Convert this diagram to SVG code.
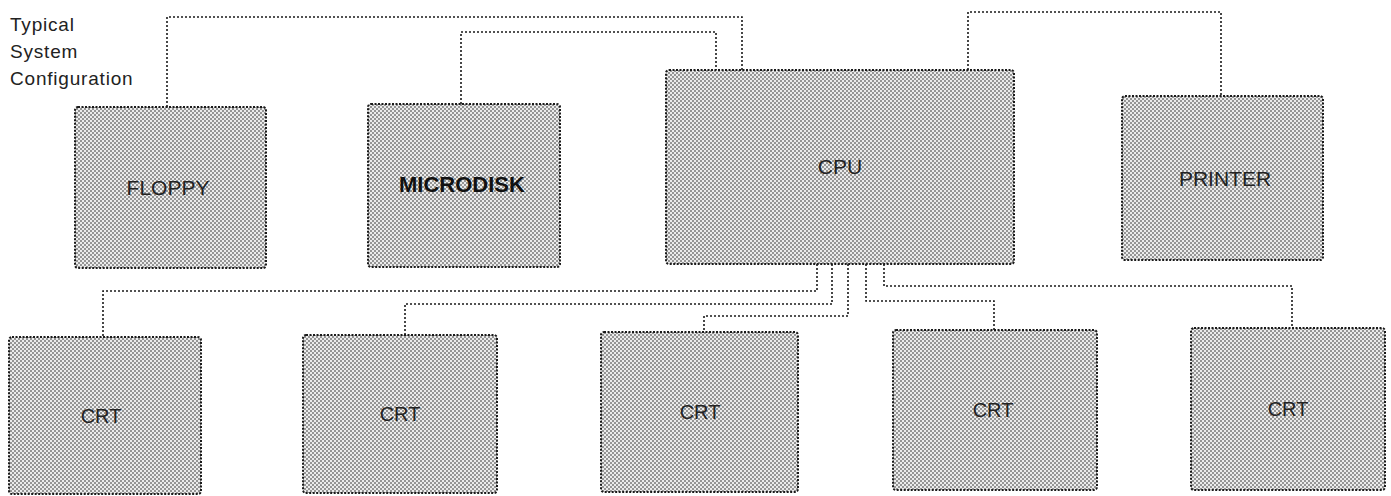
<svg xmlns="http://www.w3.org/2000/svg" width="1391" height="496" viewBox="0 0 1391 496">
  <defs>
    <pattern id="dots" width="4" height="4" patternUnits="userSpaceOnUse">
      <rect width="4" height="4" fill="#ececec"/>
      <circle cx="1" cy="1" r="0.95" fill="#707070"/>
      <circle cx="3" cy="3" r="0.95" fill="#707070"/>
    </pattern>
  </defs>
  <style>
    .box { fill: url(#dots); stroke: #1a1a1a; stroke-width: 2; stroke-dasharray: 2 1.5; }
    .lbl { font-family: "Liberation Sans", Arial, sans-serif; font-size: 21px; fill: #222; text-anchor: middle; dominant-baseline: central; }
    .bold { font-weight: bold; font-size: 22px; fill: #111; }
    .crt { font-size: 20px; }
    .title { font-family: "Liberation Sans", Arial, sans-serif; font-size: 19px; letter-spacing: 0.8px; fill: #222; }
    .wire { fill: none; stroke: #1a1a1a; stroke-width: 1.6; stroke-dasharray: 2 2; }
  </style>
  <rect width="1391" height="496" fill="#ffffff"/>

  <g id="title">
    <text class="title" x="10" y="31">Typical</text>
    <text class="title" x="10" y="58">System</text>
    <text class="title" x="10" y="85">Configuration</text>
  </g>

  <g id="connectors">
    <polyline class="wire" points="167,107 167,17 742,17 742,70"/>
    <polyline class="wire" points="461,104 461,32 716,32 716,70"/>
    <polyline class="wire" points="968,70 968,12 1221,12 1221,96"/>
    <polyline class="wire" points="817,264 817,291 103,291 103,337"/>
    <polyline class="wire" points="832,264 832,304 405,304 405,335"/>
    <polyline class="wire" points="848,264 848,316 704,316 704,332"/>
    <polyline class="wire" points="866,264 866,301 994,301 994,330"/>
    <polyline class="wire" points="884,264 884,286 1292,286 1292,328"/>
  </g>

  <g id="floppy">
    <rect class="box" x="75" y="107" width="191" height="161" rx="3"/>
    <text class="lbl" x="168" y="187">FLOPPY</text>
  </g>
  <g id="microdisk">
    <rect class="box" x="368" y="104" width="192" height="163" rx="3"/>
    <text class="lbl bold" x="462" y="184">MICRODISK</text>
  </g>
  <g id="cpu">
    <rect class="box" x="666" y="70" width="348" height="194" rx="3"/>
    <text class="lbl" x="840" y="166">CPU</text>
  </g>
  <g id="printer">
    <rect class="box" x="1122" y="96" width="201" height="164" rx="3"/>
    <text class="lbl" x="1225" y="178">PRINTER</text>
  </g>

  <g id="crt1">
    <rect class="box" x="9" y="337" width="192" height="157" rx="3"/>
    <text class="lbl crt" x="101" y="416">CRT</text>
  </g>
  <g id="crt2">
    <rect class="box" x="303" y="335" width="194" height="158" rx="3"/>
    <text class="lbl crt" x="400" y="414">CRT</text>
  </g>
  <g id="crt3">
    <rect class="box" x="601" y="332" width="197" height="160" rx="3"/>
    <text class="lbl crt" x="700" y="412">CRT</text>
  </g>
  <g id="crt4">
    <rect class="box" x="893" y="330" width="204" height="160" rx="3"/>
    <text class="lbl crt" x="993" y="410">CRT</text>
  </g>
  <g id="crt5">
    <rect class="box" x="1191" y="328" width="194" height="162" rx="3"/>
    <text class="lbl crt" x="1288" y="409">CRT</text>
  </g>
</svg>
